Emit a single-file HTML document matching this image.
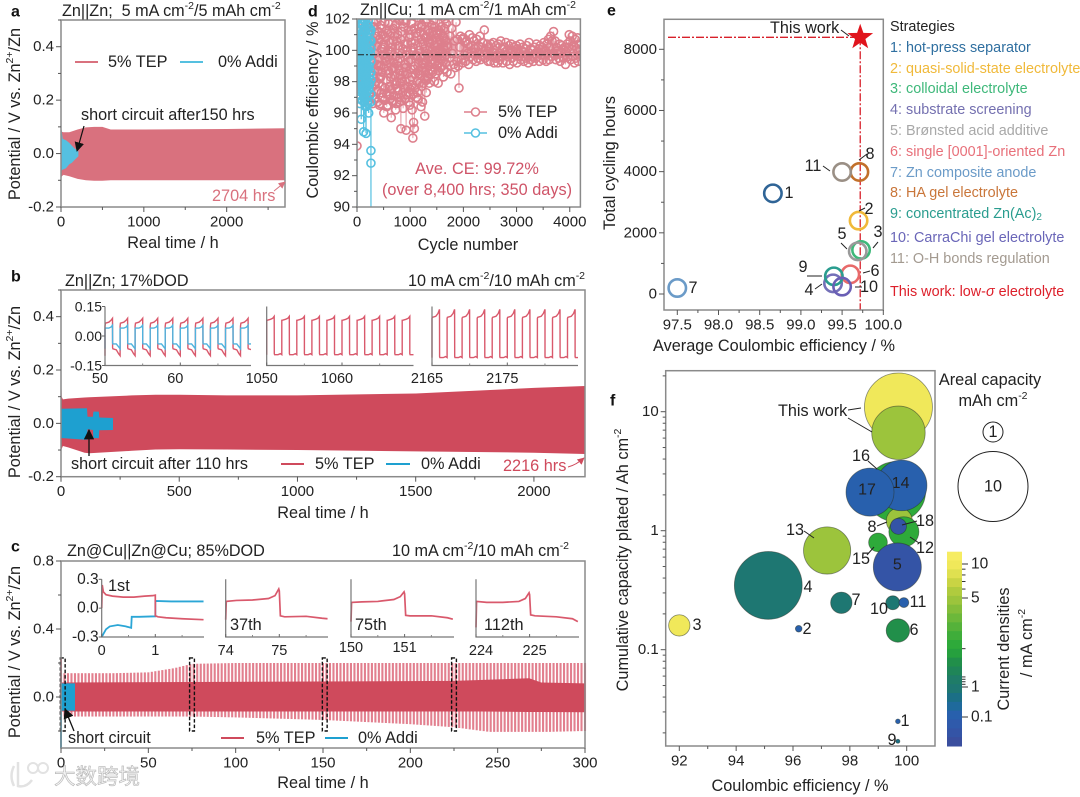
<!DOCTYPE html>
<html lang="en">
<head>
<meta charset="utf-8">
<title>Zn electrolyte cycling performance</title>
<style>
html,body{margin:0;padding:0;background:#fff;}
svg{display:block;font-family:"Liberation Sans","Noto Sans CJK SC",sans-serif;fill:#222;}
text{dominant-baseline:central;}
.t{font-size:16.3px;}
.s{font-size:16.2px;}
.l{font-size:14.4px;}
.p{font-size:16px;font-weight:bold;fill:#111;}
.lead{stroke:#222;stroke-width:1;fill:none;}
</style>
</head>
<body>
<svg id="chart" xmlns="http://www.w3.org/2000/svg" width="1080" height="797" viewBox="0 0 1080 797">
<defs>
<marker id="ab" viewBox="0 0 10 10" refX="9" refY="5" markerWidth="8" markerHeight="8" orient="auto-start-reverse"><path d="M0 0L10 5L0 10z" fill="#111"/></marker>
<marker id="ar" viewBox="0 0 10 10" refX="9" refY="5" markerWidth="7" markerHeight="7" orient="auto"><path d="M0 0L10 5L0 10z" fill="#d9717e"/></marker>
<marker id="ar2" viewBox="0 0 10 10" refX="9" refY="5" markerWidth="7" markerHeight="7" orient="auto"><path d="M0 0L10 5L0 10z" fill="#cf4a5c"/></marker>
</defs>
<g id="plots"></g>

<!-- panel a text -->
<g>
<text class="p" x="11" y="12">a</text>
<text class="s" x="62" y="11">Zn||Zn;&#160; 5 mA cm<tspan dy="-5" font-size="10.5">-2</tspan><tspan dy="5">/5 mAh cm</tspan><tspan dy="-5" font-size="10.5">-2</tspan></text>
<text class="t" transform="translate(15 114) rotate(-90)" text-anchor="middle">Potential / V vs. Zn<tspan dy="-5" font-size="10.5">2+</tspan><tspan dy="5">/Zn</tspan></text>
<text class="t" x="173" y="243" text-anchor="middle">Real time / h</text>
<line x1="75" y1="62" x2="98" y2="62" stroke="#d9717e" stroke-width="2"/>
<text class="t" x="108" y="62">5% TEP</text>
<line x1="180" y1="62" x2="203" y2="62" stroke="#55c0e0" stroke-width="2"/>
<text class="t" x="218" y="62">0% Addi</text>
<text class="s" x="81" y="115">short circuit after150 hrs</text>
<line x1="84" y1="126" x2="77" y2="151" stroke="#111" stroke-width="1.2" marker-end="url(#ab)"/>
<text class="t" x="212" y="196" style="fill:#d9717e">2704 hrs</text>
<line x1="274" y1="191" x2="285" y2="182" stroke="#d9717e" stroke-width="1" marker-end="url(#ar)"/>
</g>

<!-- panel d text -->
<g>
<text class="p" x="308" y="12">d</text>
<text class="s" x="360" y="10">Zn||Cu; 1 mA cm<tspan dy="-5" font-size="10.5">-2</tspan><tspan dy="5">/1 mAh cm</tspan><tspan dy="-5" font-size="10.5">-2</tspan></text>
<text class="t" transform="translate(313 110) rotate(-90)" text-anchor="middle">Coulombic efficiency / %</text>
<text class="t" x="468" y="245" text-anchor="middle">Cycle number</text>
<line x1="464" y1="112" x2="487" y2="112" stroke="#dd7f8c" stroke-width="1.5"/>
<circle cx="475.5" cy="112" r="4" fill="#fff" stroke="#dd7f8c" stroke-width="1.5"/>
<text class="t" x="498" y="112">5% TEP</text>
<line x1="464" y1="133" x2="487" y2="133" stroke="#55c0e0" stroke-width="1.5"/>
<circle cx="475.5" cy="133" r="4" fill="#fff" stroke="#55c0e0" stroke-width="1.5"/>
<text class="t" x="498" y="133">0% Addi</text>
<text class="t" x="477" y="169" text-anchor="middle" style="fill:#cf5468">Ave. CE: 99.72%</text>
<text class="t" x="477" y="190" text-anchor="middle" style="fill:#cf5468">(over 8,400 hrs; 350 days)</text>
</g>

<!-- panel b text -->
<g>
<text class="p" x="11" y="277">b</text>
<text class="s" x="65" y="281">Zn||Zn; 17%DOD</text>
<text class="s" x="408" y="281">10 mA cm<tspan dy="-5" font-size="10.5">-2</tspan><tspan dy="5">/10 mAh cm</tspan><tspan dy="-5" font-size="10.5">-2</tspan></text>
<text class="t" transform="translate(15 392) rotate(-90)" text-anchor="middle">Potential / V vs. Zn<tspan dy="-5" font-size="10.5">2+</tspan><tspan dy="5">/Zn</tspan></text>
<text class="t" x="323" y="513" text-anchor="middle">Real time / h</text>
<text class="s" x="71" y="464">short circuit after 110 hrs</text>
<line x1="89" y1="456" x2="89" y2="430" stroke="#111" stroke-width="1.3" marker-end="url(#ab)"/>
<line x1="281" y1="464" x2="304" y2="464" stroke="#cf4a5c" stroke-width="2"/>
<text class="t" x="315" y="464">5% TEP</text>
<line x1="386" y1="464" x2="410" y2="464" stroke="#1ea0d0" stroke-width="2"/>
<text class="t" x="421" y="464">0% Addi</text>
<text class="t" x="503" y="466" style="fill:#cf4a5c">2216 hrs</text>
<path d="M568 467Q576 465 584 458" fill="none" stroke="#cf4a5c" marker-end="url(#ar2)"/>
</g>

<!-- panel c text -->
<g>
<text class="p" x="11" y="547">c</text>
<text class="s" x="67" y="551">Zn@Cu||Zn@Cu; 85%DOD</text>
<text class="s" x="392" y="551">10 mA cm<tspan dy="-5" font-size="10.5">-2</tspan><tspan dy="5">/10 mAh cm</tspan><tspan dy="-5" font-size="10.5">-2</tspan></text>
<text class="t" transform="translate(15 652) rotate(-90)" text-anchor="middle">Potential / V vs. Zn<tspan dy="-5" font-size="10.5">2+</tspan><tspan dy="5">/Zn</tspan></text>
<text class="t" x="323" y="783" text-anchor="middle">Real time / h</text>
<text class="s" x="68" y="738">short circuit</text>
<line x1="74" y1="731" x2="65" y2="709" stroke="#111" stroke-width="1.3" marker-end="url(#ab)"/>
<line x1="221" y1="738" x2="244" y2="738" stroke="#cf4a5c" stroke-width="2"/>
<text class="t" x="256" y="738">5% TEP</text>
<line x1="325" y1="738" x2="348" y2="738" stroke="#1ea0d0" stroke-width="2"/>
<text class="t" x="358" y="738">0% Addi</text>
<text class="t" x="108" y="586">1st</text>
<text class="t" x="230" y="625">37th</text>
<text class="t" x="355" y="625">75th</text>
<text class="t" x="484" y="625">112th</text>
</g>

<!-- panel e text -->
<g>
<text class="p" x="607" y="11">e</text>
<text class="t" transform="translate(610 163) rotate(-90)" text-anchor="middle">Total cycling hours</text>
<text class="t" x="774" y="346" text-anchor="middle">Average Coulombic efficiency / %</text>
<text class="s" x="770" y="28">This work</text>
<line class="lead" x1="841" y1="30" x2="849" y2="36"/>
<g class="s" text-anchor="middle">
<text x="870" y="154">8</text>
<text x="813" y="166">11</text>
<text x="789" y="193">1</text>
<text x="869" y="209">2</text>
<text x="878" y="232">3</text>
<text x="842" y="234">5</text>
<text x="875" y="271">6</text>
<text x="803" y="267">9</text>
<text x="809" y="290">4</text>
<text x="869" y="287">10</text>
<text x="693" y="288">7</text>
</g>
<g>
<line class="lead" x1="859" y1="160" x2="867" y2="154"/>
<line class="lead" x1="823" y1="166" x2="830" y2="171"/>
<line class="lead" x1="859" y1="211" x2="865" y2="208"/>
<line class="lead" x1="873" y1="248" x2="878" y2="242"/>
<line class="lead" x1="841" y1="243" x2="847" y2="249"/>
<line class="lead" x1="863" y1="273" x2="870" y2="271"/>
<line class="lead" x1="807" y1="276" x2="822" y2="276"/>
<line class="lead" x1="815" y1="289" x2="822" y2="284"/>
<line class="lead" x1="855" y1="287" x2="862" y2="287"/>
</g>
<g class="l">
<text x="890" y="27">Strategies</text>
<text x="890" y="48" style="fill:#2f6fa0">1: hot-press separator</text>
<text x="890" y="69" style="fill:#f0b93a">2: quasi-solid-state electrolyte</text>
<text x="890" y="89" style="fill:#3eb87a">3: colloidal electrolyte</text>
<text x="890" y="110" style="fill:#7470b0">4: substrate screening</text>
<text x="890" y="131" style="fill:#a8a8a8">5: Brønsted acid additive</text>
<text x="890" y="152" style="fill:#e8707a">6: single [0001]-oriented Zn</text>
<text x="890" y="173" style="fill:#6b9bc8">7: Zn composite anode</text>
<text x="890" y="193" style="fill:#c9763a">8: HA gel electrolyte</text>
<text x="890" y="214" style="fill:#2a9d8f">9: concentrated Zn(Ac)<tspan dy="3" font-size="10">2</tspan></text>
<text x="890" y="238" style="fill:#6a66b8">10: CarraChi gel electrolyte</text>
<text x="890" y="259" style="fill:#a39a90">11: O-H bonds regulation</text>
<text x="890" y="292" style="fill:#dd1f2a">This work: low-<tspan font-style="italic">σ</tspan> electrolyte</text>
</g>
</g>

<!-- panel f text -->
<g>
<text class="p" x="610" y="401">f</text>
<text class="t" transform="translate(623 560) rotate(-90)" text-anchor="middle">Cumulative capacity plated / Ah cm<tspan dy="-5" font-size="10.5">-2</tspan></text>
<text class="t" x="800" y="786" text-anchor="middle">Coulombic efficiency / %</text>
<text class="s" x="778" y="411">This work</text>
<g>
<line class="lead" x1="848" y1="410" x2="861" y2="408"/>
<line class="lead" x1="848" y1="418" x2="872" y2="432"/>
<line class="lead" x1="868" y1="461" x2="877" y2="469"/>
<line class="lead" x1="902" y1="525" x2="917" y2="521"/>
<line class="lead" x1="877" y1="526" x2="887" y2="522"/>
<line class="lead" x1="804" y1="531" x2="814" y2="538"/>
<line class="lead" x1="910" y1="537" x2="919" y2="543"/>
<line class="lead" x1="867" y1="555" x2="874" y2="547"/>
</g>
<g class="s" text-anchor="middle" id="f-labels">
<text x="861" y="456">16</text>
<text x="925" y="521">18</text>
<text x="872" y="527">8</text>
<text x="795" y="530">13</text>
<text x="925" y="548">12</text>
<text x="861" y="559">15</text>
<text x="808" y="587">4</text>
<text x="856" y="600">7</text>
<text x="879" y="609">10</text>
<text x="918" y="602">11</text>
<text x="914" y="630">6</text>
<text x="697" y="625">3</text>
<text x="807" y="629">2</text>
<text x="905" y="721">1</text>
<text x="892" y="740">9</text>
</g>
<text class="t" x="990" y="380" text-anchor="middle">Areal capacity</text>
<text class="t" x="993" y="401" text-anchor="middle">mAh cm<tspan dy="-5" font-size="10.5">-2</tspan></text>
<circle cx="993" cy="432" r="10" fill="none" stroke="#222"/>
<text class="s" x="993" y="432" text-anchor="middle">1</text>
<circle cx="993" cy="486.5" r="35" fill="none" stroke="#222"/>
<text class="s" x="993" y="486.5" text-anchor="middle">10</text>
<text class="t" transform="translate(1004 649) rotate(-90)" text-anchor="middle">Current densities</text>
<text class="t" transform="translate(1027 643) rotate(-90)" text-anchor="middle">/ mA cm<tspan dy="-5" font-size="10.5">-2</tspan></text>
</g>

<!-- watermark -->
<g>
<path d="M14 766Q9 776 14 786M18 762V786Q26 788 32 780" fill="none" stroke="#e2e2e2" stroke-width="2.5"/>
<circle cx="33" cy="768" r="5" fill="none" stroke="#e2e2e2" stroke-width="2"/>
<circle cx="43" cy="768" r="5" fill="none" stroke="#e2e2e2" stroke-width="2"/>
<text x="54" y="777" style="font-size:21.5px;fill:#f2f2f2;stroke:#b5b5b5;stroke-width:.6;font-family:'Liberation Sans','Noto Sans CJK SC',sans-serif">大数跨境</text>
</g>
</svg>

<script>
/* ---------- panel a data ---------- */
const aXTicks=[0,1000,2000];
const aXMinor=[500,1500,2500];
const aYTicks=[-0.2,0,0.2,0.4];
const aYMinor=[-0.1,0.1,0.3,0.5];
const aTepTime=[0,3,10,30,100,200,300,400,500,600,1000,2000,2704];
const aTepUpper=[0.145,0.10,0.082,0.08,0.08,0.09,0.098,0.10,0.10,0.09,0.09,0.092,0.095];
const aTepLower=[-0.10,-0.095,-0.085,-0.08,-0.085,-0.095,-0.10,-0.102,-0.102,-0.10,-0.10,-0.10,-0.10];
const aAddiTime=[0,20,60,100,130,160,210];
const aAddiUpper=[0.105,0.055,0.05,0.04,0.03,0.02,0.008];
const aAddiLower=[-0.065,-0.06,-0.055,-0.04,-0.035,-0.025,-0.01];

/* ---------- panel d data ---------- */
const dXTicks=[0,1000,2000,3000,4000];
const dXMinor=[500,1500,2500,3500];
const dYTicks=[90,92,94,96,98,100,102];
const dYMinor=[91,93,95,97,99,101];
const dAverageCE=99.72;
const dCycleStep=14;
const dTepCE=[93.9,99.2,100.4,98.6,101.2,97.8,99.9,100.8,98.1,99.4,101.5,97.2,100.1,98.9,102.3,96.8,99.6,101.0,97.5,100.3,
103.5,96.6,101.8,98.2,104,96.9,100.9,97.4,102.7,99.0,96.5,103.1,98.3,101.4,97.7,100.2,96.0,103.8,99.5,102.2,96.4,101.1,98.7,103.4,97.1,99.9,95.7,102.6,96.8,100.6,98.9,103.0,96.2,101.7,97.6,99.3,102.9,96.7,98.4,95.0,103.6,98.0,96.3,101.9,96.9,99.1,94.9,103.2,100.4,97.3,102.4,96.5,98.8,101.3,96.2,94.4,95.4,95.0,103.7,99.7,97.0,102.1,96.9,100.0,98.5,102.8,96.4,101.6,96.7,99.2,103.3,95.8,100.8,97.3,102.0,98.2,
101.3,97.9,100.5,102.5,98.7,103,99.4,101.9,98.0,100.3,102.7,99.0,101.1,97.9,100.0,102.2,98.9,101.5,99.6,103.1,98.3,100.8,102.0,99.2,101.7,98.6,100.2,102.6,99.5,100.9,98.5,101.4,99.8,102.3,99.1,100.6,98.9,101.8,99.3,100.7,99.0,97.6,
100.2,100.9,99.4,100.7,99.2,100.8,99.7,100.5,99.3,100.6,99.8,100.4,99.1,101.0,99.6,100.3,99.9,100.8,99.4,100.6,99.7,100.1,99.3,100.7,99.5,100.3,99.8,100.9,99.4,100.2,99.6,100.5,99.7,101.3,99.5,100.0,99.8,100.4,99.3,100.2,
100.1,99.3,100.4,99.6,99.9,100.5,99.2,100.0,99.5,100.3,99.7,99.2,100.4,99.8,99.4,100.6,99.6,100.1,99.2,100.2,99.7,99.9,100.5,99.3,100.0,99.6,100.3,99.1,99.8,100.4,99.5,100.0,99.3,100.2,99.7,99.9,100.3,99.2,100.1,99.6,99.8,100.4,99.4,100.0,99.6,100.2,99.3,99.9,100.1,99.5,100.3,99.7,99.2,100.5,99.8,99.4,100.1,99.6,100.0,99.3,100.2,99.8,99.5,100.4,99.6,99.9,100.1,99.3,100.3,99.7,99.9,100.2,99.4,100.5,99.7,100.0,99.3,100.4,99.8,100.7,99.4,100.2,100.9,99.6,100.6,99.8,
101.2,99.7,100.6,99.4,100.2,99.8,100.0,99.5,100.4,99.3,99.9,100.3,99.6,100.1,99.5,100.2,99.1,99.9,100.4,99.6,100.2,
101.0,100.6,99.4,100.1,100.9,99.6,100.3,99.2,100.7,99.5,100.1,100.8,99.3,100.4,99.7,100.0];
/* additional dense cycles of the same series, read between the spaced ones */
const dTepDenseStart=290;
const dTepDenseStep=7;
const dTepDenseCE=[99.2,97.1,100.6,98.4,101.5,96.9,99.8,97.8,100.9,98.0,
101.9,97.4,99.1,100.3,96.7,98.7,101.2,97.9,99.5,100.7,
98.2,96.6,101.6,99.0,97.3,100.1,98.6,101.0,97.0,99.7,
100.4,98.9,96.8,101.8,97.6,99.3,100.8,98.1,97.2,101.3,
99.6,96.5,100.0,98.5,101.7,97.7,99.4,100.5,96.9,98.3,
101.1,97.5,99.9,100.2,98.8,96.7,101.4,97.1,99.2,100.9,
98.4,97.8,101.6,99.6,96.6,100.6,98.0,101.0,97.4,99.0,
100.3,98.7,97.0,101.9,99.5,97.9,100.7,96.8,98.2,101.2,
99.8,97.3,100.1,98.6,101.5,97.6,99.1,100.4,96.9,98.9,
101.8,97.2,99.7,100.0,98.5,97.7,101.3,99.3,96.7,100.8,
98.1,101.0,97.5,99.4,100.5,98.3,101.7,97.8,99.9,100.2,
97.2,98.8,101.4,99.0,100.6,97.6,98.5,101.1,99.6,100.9,
98.0,97.3,100.3,101.6,99.2,98.7,97.9,100.0,101.2,99.5,
98.4,100.7,97.7,101.5,99.1,98.9,100.4,97.9,101.0,99.7,
98.2,100.1,98.6,101.8,99.3,100.8,98.1,99.8,101.3,98.3,
100.5,99.0,98.5,101.1,99.6,100.2,98.8,100.9,99.4,101.6,
99.1,100.6,98.6,101.2,99.7,100.3,98.9,101.5,99.3,100.0,
98.5,100.8,99.5,101.0,99.0,100.4,99.8,98.7,101.3,99.2,
100.7,99.6,100.1,98.9,101.1,99.4,100.5,99.0,99.9,100.9,
99.3,100.2,98.8,101.4,99.6,100.0,99.2,100.6,99.7,100.3];
const dAddiCycle=[0,0,6,12,18,24,30,36,42,48,54,60,66,72,80,88,96,104,112,120,125,132,140,148,156,164,170,178,186,194,202,210,220,228,236,244,252,256,258,260,262,262,262,262,262,262,262,262,263,264];
const dAddiCE=[89,97.5,100.4,98.1,101.2,99.3,97.4,100.6,98.8,96.9,101.5,99.7,98.2,100.9,95.6,99.4,101.8,97.7,100.2,98.5,94.8,101.4,99.0,97.1,101.9,96.4,94.7,100.5,98.3,102.5,96.6,101.6,96.0,99.6,97.9,101.1,99.8,100.6,96.7,97.2,98.1,98.6,99.3,100.1,100.6,101.3,93.6,92.8,89,89];
const dAddiDenseStep=4;
const dAddiDenseCE=[98.4,101.3,96.9,100.2,99.0,102.1,97.6,100.7,98.2,101.0,
97.2,99.6,101.8,98.7,96.6,100.4,99.2,101.5,97.9,100.0,
102.3,98.0,99.4,101.1,96.8,100.8,98.5,99.8,101.7,97.4,
100.3,98.9,102.0,97.0,99.1,100.6,98.3,101.4,96.5,99.7,
101.2,97.7,100.1,98.6,102.2,97.3,99.3,100.9,98.1,101.6,
96.7,99.5,100.5,98.8,101.9,97.5,100.0,99.0,101.3,97.8,
100.6,98.4];

/* ---------- panel b data ---------- */
const bXTicks=[0,500,1000,1500,2000];
const bXMinor=[250,750,1250,1750];
const bYTicks=[-0.2,0,0.2,0.4];
const bYMinor=[-0.1,0.1,0.3,0.5];
const bTepTime=[0,3,8,30,100,120,300,400,500,700,1000,1500,2000,2216];
const bTepUpper=[0.22,0.10,0.09,0.093,0.097,0.098,0.105,0.107,0.107,0.105,0.105,0.112,0.133,0.14];
const bTepLower=[-0.105,-0.095,-0.085,-0.09,-0.11,-0.112,-0.103,-0.098,-0.097,-0.098,-0.10,-0.105,-0.11,-0.115];
const bAddiTime=[0,110,112,135,137,160,162,220];
const bAddiUpper=[0.055,0.057,0.025,0.025,0.044,0.044,0.022,0.02];
const bAddiLower=[-0.055,-0.062,-0.022,-0.025,-0.055,-0.056,-0.026,-0.025];
/* inset waveform: one two-hour cycle */
const bWaveHours=[0,0.05,0.5,0.8,1,1.01,1.05,1.5,1.8,2];
const bInsetTep50=[0.05,0.065,0.07,0.08,0.09,-0.06,-0.065,-0.07,-0.09,-0.10];
const bInsetAddi50=[0.035,0.04,0.04,0.045,0.055,-0.035,-0.04,-0.04,-0.055,-0.065];
const bInsetTep1050=[0.08,0.08,0.085,0.09,0.10,-0.09,-0.095,-0.095,-0.09,-0.095];
const bInsetTep2165=[0.09,0.095,0.10,0.115,0.135,-0.105,-0.11,-0.11,-0.105,-0.11];
const bInsetYTicks=[-0.15,0,0.15];
const bInset1Ticks=[50,60];
const bInset2Ticks=[1050,1060];
const bInset3Ticks=[2165,2175];

/* ---------- panel c data ---------- */
const cXTicks=[0,50,100,150,200,250,300];
const cXMinor=[25,75,125,175,225,275];
const cYTicks=[0,0.4,0.8];
const cYMinor=[-0.2,0.2,0.6];
const cCycleHours=2;
const cEnvTime=[0,30,50,65,75,100,150,200,225,245,270,280,300];
const cEnvUpper=[0.14,0.14,0.145,0.17,0.195,0.2,0.2,0.2,0.2,0.2,0.2,0.2,0.2];
const cEnvLower=[-0.115,-0.115,-0.115,-0.115,-0.115,-0.12,-0.135,-0.16,-0.178,-0.205,-0.205,-0.205,-0.2];
const cCoreTime=[0,225,240,268,275,300];
const cCoreUpper=[0.085,0.095,0.10,0.11,0.085,0.08];
const cCoreLower=[-0.085,-0.085,-0.085,-0.088,-0.088,-0.09];
const cAddiTime=[0,8];
const cAddiUpper=[0.08,0.08];
const cAddiLower=[-0.08,-0.08];
const cDashedHours=[1,75,151,225];
const cInsetYTicks=[-0.3,0,0.3];
const c1TepHours=[0,0.01,0.03,0.08,0.2,0.4,0.6,0.8,0.95,1,1.001,1.05,1.2,1.5,1.9];
const c1TepV=[0,0.24,0.17,0.14,0.125,0.115,0.115,0.125,0.13,0.135,-0.08,-0.09,-0.10,-0.11,-0.12];
const c1AddiHours=[0,0.03,0.08,0.15,0.3,0.45,0.55,0.56,0.7,1,1.001,1.3,1.9];
const c1AddiV=[-0.3,-0.27,-0.22,-0.19,-0.175,-0.19,-0.205,-0.09,-0.09,-0.085,0.075,0.07,0.07];
const cCyclePhase=[0,0.01,0.2,0.5,0.8,0.92,0.99,1,1.02,1.1,1.5,1.8,1.9];
const c37V=[-0.12,0.07,0.08,0.085,0.10,0.13,0.20,0.18,-0.08,-0.09,-0.085,-0.105,-0.11];
const c75V=[-0.14,0.06,0.065,0.07,0.09,0.12,0.17,0.15,-0.075,-0.08,-0.08,-0.10,-0.115];
const c112V=[-0.20,0.07,0.06,0.06,0.07,0.10,0.16,0.14,-0.07,-0.08,-0.09,-0.11,-0.14];

/* ---------- panel e data ---------- */
const eXTicks=[97.5,98,98.5,99,99.5,100];
const eXMinor=[97.75,98.25,98.75,99.25,99.75];
const eYTicks=[0,2000,4000,6000,8000];
const eYMinor=[1000,3000,5000,7000];
const eIds=[1,2,3,4,5,6,7,8,9,10,11];
const eCE=[98.66,99.70,99.73,99.39,99.69,99.60,97.50,99.71,99.40,99.50,99.50];
const eHours=[3291,2398,1440,349,1395,643,196,3989,578,240,3989];
const eColors=['#2f6496','#f0b93a','#3eb87a','#7470b8','#9a9a9a','#e86a6a','#6b9bc8','#c2702a','#2a9d8f','#6a5fb5','#9a8f85'];
const eDrawOrder=[1,6,8,3,5,7,4,9,10,11,2];
const eThisCE=99.72;
const eThisHours=8392;

/* ---------- panel f data ---------- */
const fXTicks=[92,94,96,98,100];
const fXMinor=[93,95,97,99];
const fYTicks=[0.1,1,10];
const fYMinor=[0.02,0.03,0.04,0.05,0.06,0.07,0.08,0.09,0.2,0.3,0.4,0.5,0.6,0.7,0.8,0.9,2,3,4,5,6,7,8,9,20];
const fNames=['this-work-10','this-work-5','16','8','14','17','12','18','15','5','13','4','7','10','11','6','3','2','1','9'];
const fCE=[99.71,99.71,99.61,99.74,99.82,98.71,99.9,99.71,98.99,99.67,97.2,95.13,97.7,99.51,99.9,99.69,92,96.2,99.69,99.69];
const fPlated=[10.95,6.65,2.13,1.21,2.4,2.11,0.98,1.088,0.797,0.496,0.682,0.347,0.248,0.248,0.249,0.145,0.16,0.15,0.025,0.017];
const fAreal=[9.55,5.9,7.4,1.4,5.3,4.76,1.86,0.53,0.72,4.76,4.6,9.5,0.94,0.4,0.2,1.13,0.94,0.09,0.045,0.033];
const fCurrent=[10,5,2,5,0.1,0.1,2,0.03,2.2,0.03,5,1,1,1,0.1,1.5,10,0.1,0.1,0.5];
const fInsideIds=['14','17','5'];
const cbTicks=[10,5,1,0.1];
const cbMinor=[9,8,7,6,2,1.2,1.15,1.1,1.05];
const cbBands=['#f6ec62','#f0e85a','#dfe050','#c9d444','#b0cb3e','#9cc43c','#84bd3a','#6cb83a','#55b23a','#3fad3a','#2eaa3a','#26a03e','#218f4a','#1f8558','#1f7c68','#1e7772','#1b6f86','#1f6a9c','#2860ad','#2f5aab','#3454a6','#3a4e9e'];

/* ---------- helpers ---------- */
const NS='http://www.w3.org/2000/svg';
const root=document.getElementById('plots');
function make(tag,attrs,parent){
  const e=document.createElementNS(NS,tag);
  for(const k in attrs)e.setAttribute(k,attrs[k]);
  (parent||root).appendChild(e);
  return e;
}
const lin=(d0,d1,r0,r1)=>v=>r0+(v-d0)*(r1-r0)/(d1-d0);
const logS=(d0,d1,r0,r1)=>{const s=lin(Math.log10(d0),Math.log10(d1),r0,r1);return v=>s(Math.log10(v));};
const interp=(ts,vs,t)=>{
  if(t<=ts[0])return vs[0];
  for(let i=1;i<ts.length;i++){if(t<=ts[i]){return vs[i-1]+(vs[i]-vs[i-1])*(t-ts[i-1])/(ts[i]-ts[i-1]);}}
  return vs[vs.length-1];
};
let clipCount=0;
function clipFor(box){
  const id='clip'+(clipCount++);
  const cp=make('clipPath',{id:id});
  make('rect',{x:box.l,y:box.t,width:box.r-box.l,height:box.b-box.t},cp);
  return 'url(#'+id+')';
}
function areaPath(x,y,ts,up,lo){
  let d='';
  ts.forEach((t,i)=>{d+=(i?'L':'M')+x(t).toFixed(1)+' '+y(up[i]).toFixed(1);});
  for(let i=ts.length-1;i>=0;i--){d+='L'+x(ts[i]).toFixed(1)+' '+y(lo[i]).toFixed(1);}
  return d+'Z';
}
function linePath(x,y,ts,vs){
  let d='';
  ts.forEach((t,i)=>{d+=(i?'L':'M')+x(t).toFixed(2)+' '+y(vs[i]).toFixed(2);});
  return d;
}
function drawAxes(parent,box,x,y,xT,xM,yT,yM,fmtX,fmtY,size){
  const f=make('rect',{x:box.l,y:box.t,width:box.r-box.l,height:box.b-box.t,fill:'none',stroke:'#8a8a8a','stroke-width':1.5},parent);
  
  
  xT.forEach(v=>{
    const t=make('line',{x1:x(v),x2:x(v),y1:box.b,y2:box.b+5,stroke:'#555','stroke-width':1},parent);
    
    
    const l=make('text',{x:x(v),y:box.b+15,'text-anchor':'middle','font-size':size||15},parent);
    
    
    l.textContent=fmtX(v);
  });
  xM.forEach(v=>{
    const t=make('line',{x1:x(v),x2:x(v),y1:box.b,y2:box.b+3,stroke:'#555','stroke-width':1},parent);
    
    
  });
  yT.forEach(v=>{
    const t=make('line',{x1:box.l-5,x2:box.l,y1:y(v),y2:y(v),stroke:'#555','stroke-width':1},parent);
    
    
    const l=make('text',{x:box.l-7,y:y(v),'text-anchor':'end','font-size':size||15},parent);
    
    
    l.textContent=fmtY(v);
  });
  yM.forEach(v=>{
    const t=make('line',{x1:box.l-3,x2:box.l,y1:y(v),y2:y(v),stroke:'#555','stroke-width':1},parent);
    
    
  });
}
function drawInsetAxes(parent,box,x,y,xT,yT,labelShift,labelY,minors,ySize){
  const a=make('path',{d:'M'+box.l+' '+box.t+'V'+box.b+'H'+box.r,fill:'none',stroke:'#777','stroke-width':1.2},parent);
  
  
  xT.forEach(v=>{
    const l=make('text',{x:x(v)+labelShift,y:labelY,'text-anchor':'middle','font-size':14.5},parent);
    
    
    l.textContent=String(v);
    const t=make('line',{x1:x(v),x2:x(v),y1:box.b,y2:box.b-3,stroke:'#666'},parent);
    
    
  });
  minors.forEach(v=>{
    const t=make('line',{x1:x(v),x2:x(v),y1:box.b,y2:box.b-2,stroke:'#888'},parent);
    
    
  });
  yT.forEach(v=>{
    const t=make('line',{x1:box.l-3,x2:box.l,y1:y(v),y2:y(v),stroke:'#666'},parent);
    
    
    const l=make('text',{x:box.l-3,y:y(v),'text-anchor':'end','font-size':ySize},parent);
    
    
    l.textContent=v===0?(ySize<15?'0.00':'0.0'):v.toFixed(Math.abs(v)<0.2?2:1);
  });
}
function cycleWave(x,y,t0,t1,wave){
  let d='M'+x(t0).toFixed(1)+' '+y(wave[wave.length-1]).toFixed(1);
  for(let c=t0;c<t1;c+=2){
    bWaveHours.forEach((h,i)=>{d+='L'+x(c+h).toFixed(1)+' '+y(wave[i]).toFixed(1);});
  }
  return d;
}
const f1=v=>v===0?'0.0':v.toFixed(1);
const fStr=v=>String(v);

/* ---------- panel a ---------- */
(function(){
  const box={l:61,r:285,t:20,b:207};
  const x=lin(0,2704,61,285), y=lin(-0.2,0.5,207,20);
  const g=make('g',{});
  
  
  const red=make('path',{d:areaPath(x,y,aTepTime,aTepUpper,aTepLower),fill:'#d9717e'},g);
  
  
  const blue=make('path',{d:areaPath(x,y,aAddiTime,aAddiUpper,aAddiLower),fill:'#55c0e0'},g);
  
  
  drawAxes(g,box,x,y,aXTicks,aXMinor,aYTicks,aYMinor,fStr,f1);
})();

/* ---------- panel d ---------- */
(function(){
  const box={l:357,r:580.4,t:19,b:207};
  const x=lin(0,4200,357,580.4), y=lin(90,102,207,19);
  const g=make('g',{});
  
  
  const cl=make('g',{'clip-path':clipFor(box)},g);
  
  
  const cyc=dTepCE.map((_,i)=>i*dCycleStep);
  const rl=make('path',{d:linePath(x,y,cyc,dTepCE),fill:'none',stroke:'#e8a3ac','stroke-width':1},cl);
  
  
  dTepDenseCE.forEach((v,i)=>{
    const c=make('circle',{cx:x(dTepDenseStart+i*dTepDenseStep),cy:y(v),r:4,fill:'none',stroke:'#dd7f8c','stroke-width':1.6},cl);
    
    
  });
  dTepCE.forEach((v,i)=>{
    const c=make('circle',{cx:x(cyc[i]),cy:y(v),r:4,fill:'none',stroke:'#dd7f8c','stroke-width':1.6},cl);
    
    
  });
  const bl=make('path',{d:linePath(x,y,dAddiCycle,dAddiCE),fill:'none',stroke:'#55c0e0','stroke-width':1.2},cl);
  
  
  dAddiDenseCE.forEach((v,i)=>{
    const c=make('circle',{cx:x(i*dAddiDenseStep),cy:y(v),r:4,fill:'none',stroke:'#55c0e0','stroke-width':1.6},cl);
    
    
  });
  dAddiCE.forEach((v,i)=>{
    const c=make('circle',{cx:x(dAddiCycle[i]),cy:y(v),r:4,fill:'none',stroke:'#55c0e0','stroke-width':1.6},cl);
    
    
  });
  const ref=make('line',{x1:x(0),x2:x(4200),y1:y(dAverageCE),y2:y(dAverageCE),stroke:'#222','stroke-width':1,'stroke-dasharray':'7 2 2 2'},g);
  
  
  drawAxes(g,box,x,y,dXTicks,dXMinor,dYTicks,dYMinor,fStr,fStr);
})();

/* ---------- panel b ---------- */
(function(){
  const box={l:61,r:585,t:290,b:476.7};
  const x=lin(0,2216,61,585), y=lin(-0.2,0.5,476.7,290);
  const g=make('g',{});
  
  
  const red=make('path',{d:areaPath(x,y,bTepTime,bTepUpper,bTepLower),fill:'#cf4a5c'},g);
  
  
  const blue=make('path',{d:areaPath(x,y,bAddiTime,bAddiUpper,bAddiLower),fill:'#1ea0d0'},g);
  
  
  drawAxes(g,box,x,y,bXTicks,bXMinor,bYTicks,bYMinor,fStr,f1);

  const yi=lin(-0.15,0.15,365.5,306.5);
  const insets=[
    {l:105,r:251,x0:50,tick:bInset1Ticks,series:[[bInsetTep50,'#d9596c'],[bInsetAddi50,'#4fb3de']],yT:bInsetYTicks,minor:[55,65]},
    {l:266.7,r:413.5,x0:1050,tick:bInset2Ticks,series:[[bInsetTep1050,'#d9596c']],yT:[],minor:[1055,1065]},
    {l:432,r:578,x0:2165,tick:bInset3Ticks,series:[[bInsetTep2165,'#d9596c']],yT:[],minor:[2170,2180]}
  ];
  insets.forEach(ins=>{
    const ib={l:ins.l,r:ins.r,t:306.5,b:365.5};
    const xi=lin(ins.x0,ins.x0+10,ins.l,ins.l+75.3);
    const ig=make('g',{},g);
    
    
    const clip=clipFor({l:ib.l-1,r:ib.r,t:ib.t-4,b:ib.b+2});
    ins.series.forEach(s=>{
      const p=make('path',{d:cycleWave(xi,yi,ins.x0,ins.x0+24,s[0]),fill:'none',stroke:s[1],'stroke-width':1.4,'clip-path':clip},ig);
      
      
    });
    drawInsetAxes(ig,ib,xi,yi,ins.tick,ins.yT,-5,379,ins.minor,14);
  });
})();

/* ---------- panel c ---------- */
(function(){
  const box={l:61,r:585,t:561,b:748};
  const x=lin(0,300,61,585), y=lin(-0.3,0.8,748,561);
  const g=make('g',{});
  
  
  const sp=make('g',{},g);
  
  
  for(let t=0;t<=300;t+=cCycleHours){
    const u=interp(cEnvTime,cEnvUpper,t), l=interp(cEnvTime,cEnvLower,t);
    const c=make('line',{x1:x(t),x2:x(t),y1:y(u),y2:y(l),stroke:'#e27f8e','stroke-width':2.1},sp);
    
    
  }
  const core=make('path',{d:areaPath(x,y,cCoreTime,cCoreUpper,cCoreLower),fill:'#cf4a5c'},g);
  
  
  const first=make('line',{x1:x(0),x2:x(0),y1:y(0.23),y2:y(-0.2),stroke:'#cf4a5c','stroke-width':2},g);
  
  
  const blue=make('path',{d:areaPath(x,y,cAddiTime,cAddiUpper,cAddiLower),fill:'#1ea0d0'},g);
  
  
  const bl=make('line',{x1:x(0),x2:x(0),y1:y(0),y2:y(-0.3),stroke:'#1ea0d0','stroke-width':2},g);
  
  
  cDashedHours.forEach(h=>{
    const r=make('rect',{x:x(h)-2.4,y:y(0.23),width:4.8,height:y(-0.2)-y(0.23),fill:'none',stroke:'#111','stroke-width':1.4,'stroke-dasharray':'3.5 2'},g);
    
    
  });
  drawAxes(g,box,x,y,cXTicks,cXMinor,cYTicks,cYMinor,fStr,f1);

  const yi=lin(-0.3,0.3,637,579.3);
  const specs=[
    {l:101.7,r:204,x0:0,lab:[0,1],minor:[0.5,1.5],shift:0,ly:651,yT:cInsetYTicks},
    {l:225.7,r:328,x0:74,lab:[74,75],minor:[74.5,75.5],shift:0,ly:651,yT:[],v:c37V},
    {l:351,r:454,x0:150,lab:[150,151],minor:[150.5,151.5],shift:0,ly:648,yT:[],v:c75V},
    {l:476,r:579,x0:224,lab:[224,225],minor:[224.5,225.5],shift:5,ly:651,yT:[],v:c112V}
  ];
  specs.forEach(s=>{
    const xi=lin(s.x0,s.x0+1,s.l,s.l+53.6);
    const ib={l:s.l,r:s.r,t:579.3,b:637};
    const ig=make('g',{},g);
    
    
    if(s.v){
      const p=make('path',{d:linePath(xi,yi,cCyclePhase.map(h=>s.x0+h),s.v),fill:'none',stroke:'#d9596c','stroke-width':1.7},ig);
      
      
    }else{
      const p2=make('path',{d:linePath(xi,yi,c1AddiHours,c1AddiV),fill:'none',stroke:'#2ba6d6','stroke-width':1.8},ig);
      
      
      const p1=make('path',{d:linePath(xi,yi,c1TepHours,c1TepV),fill:'none',stroke:'#d9596c','stroke-width':1.7},ig);
      
      
    }
    drawInsetAxes(ig,ib,xi,yi,s.lab,s.yT,s.shift,s.ly,s.minor,15.5);
  });
})();

/* ---------- panel e ---------- */
(function(){
  const box={l:664,r:883.3,t:19.3,b:310};
  const x=lin(97.5,100,677.3,883.3), y=lin(0,8000,294,49.3);
  const g=make('g',{});
  
  
  const h=make('line',{x1:box.l+4,x2:x(eThisCE),y1:y(eThisHours),y2:y(eThisHours),stroke:'#d8202a','stroke-width':1.3,'stroke-dasharray':'8 2 2 2'},g);
  
  
  const v=make('line',{x1:x(eThisCE),x2:x(eThisCE),y1:y(eThisHours),y2:box.b,stroke:'#d8202a','stroke-width':1.3,'stroke-dasharray':'8 2 2 2'},g);
  
  
  eDrawOrder.forEach(id=>{
    const i=eIds.indexOf(id);
    const c=make('circle',{cx:x(eCE[i]),cy:y(eHours[i]),r:8.7,fill:'none',stroke:eColors[i],'stroke-width':2.6},g);
    
    
  });
  const cx=x(eThisCE), cy=y(eThisHours);
  let pts='';
  for(let k=0;k<10;k++){
    const a=-Math.PI/2+k*Math.PI/5, r=k%2?5.4:13.5;
    pts+=(cx+r*Math.cos(a)).toFixed(1)+','+(cy+r*Math.sin(a)).toFixed(1)+' ';
  }
  const star=make('polygon',{points:pts,fill:'#e0141c'},g);
  
  
  drawAxes(g,box,x,y,eXTicks,eXMinor,eYTicks,eYMinor,v=>v.toFixed(1),fStr);
})();

/* ---------- panel f ---------- */
(function(){
  const box={l:665.7,r:935,t:370.7,b:746};
  const x=lin(92,100,679.3,906.7), y=logS(1,10,530.7,411.7);
  const cbTop=551.7, cbBottom=746, cbL=947, cbR=962;
  const cbY=v=>{
    if(v>=5)return 564+(Math.log10(10)-Math.log10(v))/Math.log10(2)*34;
    if(v>=1)return 598+(Math.log10(5)-Math.log10(v))/Math.log10(5)*89;
    return 687+(0-Math.log10(v))*30;
  };
  const colorOf=v=>{
    const bh=(cbBottom-cbTop)/cbBands.length;
    const idx=Math.max(0,Math.min(cbBands.length-1,Math.floor((cbY(v)-cbTop)/bh)));
    return cbBands[idx];
  };
  const g=make('g',{});
  
  
  fNames.forEach((n,i)=>{
    const c=make('circle',{cx:x(fCE[i]),cy:y(fPlated[i]),r:11*Math.sqrt(fAreal[i]),fill:colorOf(fCurrent[i]),stroke:'rgba(40,50,40,.55)','stroke-width':0.8},g);
    
    
    if(fInsideIds.indexOf(n)>=0){
      const t=make('text',{x:x(fCE[i])+(n==='14'?-1:n==='17'?-3:0),y:y(fPlated[i])-2,'text-anchor':'middle','font-size':16},g);
      
      
      t.textContent=n;
    }
  });
  drawAxes(g,box,x,y,fXTicks,fXMinor,fYTicks,fYMinor,fStr,fStr);
  const cb=make('g',{},g);
  
  
  const bh=(cbBottom-cbTop)/cbBands.length;
  cbBands.forEach((col,i)=>{
    const r=make('rect',{x:cbL,y:cbTop+i*bh,width:cbR-cbL,height:bh+0.5,fill:col},cb);
    
    
  });
  cbTicks.forEach(v=>{
    const t=make('line',{x1:cbR,x2:cbR+6,y1:cbY(v),y2:cbY(v),stroke:'#333'},cb);
    
    
    const l=make('text',{x:cbR+9,y:cbY(v),'font-size':15.5},cb);
    
    
    l.textContent=String(v);
  });
  cbMinor.forEach(v=>{
    const t=make('line',{x1:cbR,x2:cbR+3.5,y1:cbY(v),y2:cbY(v),stroke:'#333'},cb);
    
    
  });
})();
</script>
</body>
</html>
